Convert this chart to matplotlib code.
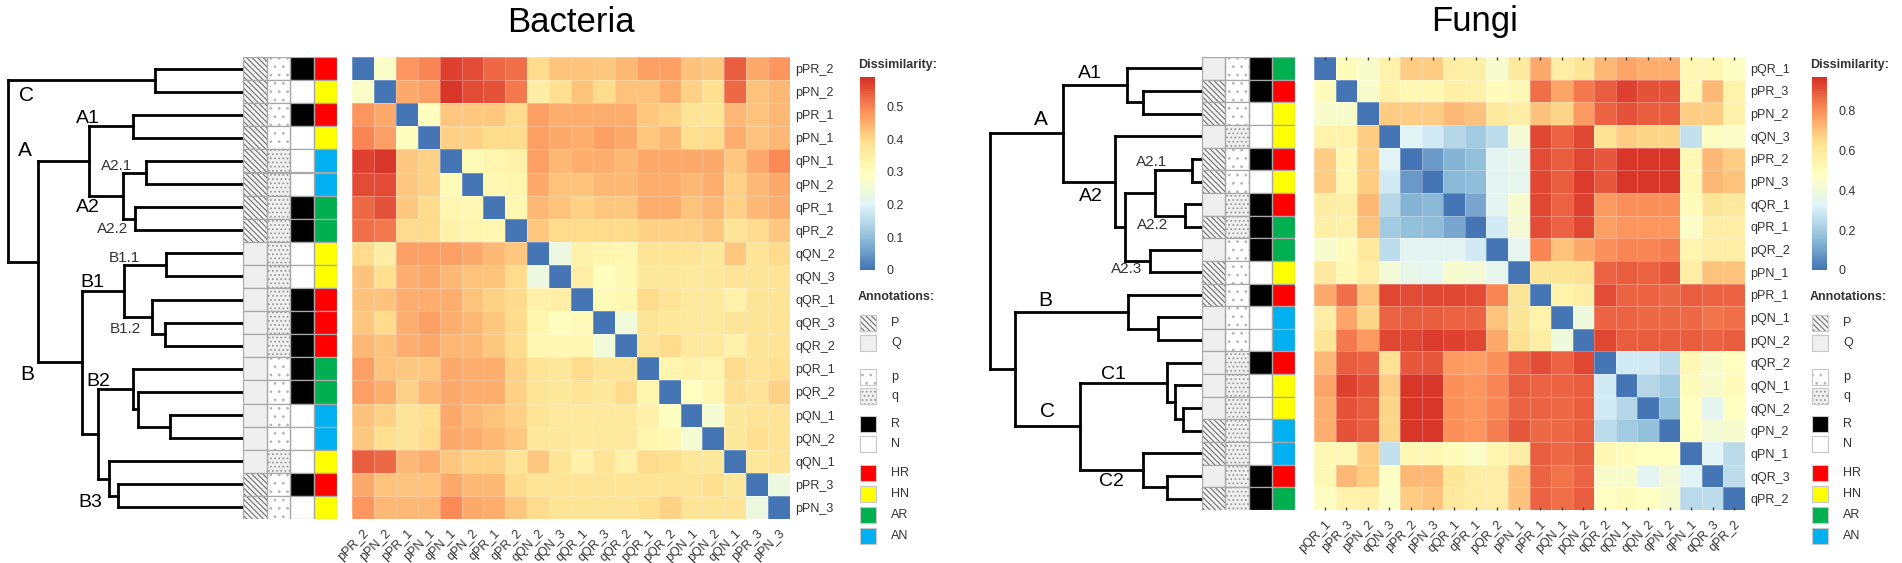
import numpy as np
import matplotlib
matplotlib.use("Agg")
from matplotlib import pyplot as plt
from matplotlib.colors import LinearSegmentedColormap
from matplotlib.patches import Rectangle

plt.rcParams['font.family'] = ['Liberation Sans', 'DejaVu Sans']
plt.rcParams['hatch.linewidth'] = 0.8

W, H = 1902, 563

# ---------------- data ----------------
bact_labels = ["pPR_2", "pPN_2", "pPR_1", "pPN_1", "qPN_1", "qPN_2", "qPR_1", "qPR_2",
               "qQN_2", "qQN_3", "qQR_1", "qQR_3", "qQR_2", "pQR_1", "pQR_2", "pQN_1",
               "pQN_2", "qQN_1", "pPR_3", "pPN_3"]

# lower triangle of the dissimilarity matrix (row i, columns 0..i-1)
bact_lower = [
    [],
    [0.28],
    [0.48, 0.46],
    [0.50, 0.47, 0.30],
    [0.57, 0.58, 0.42, 0.41],
    [0.56, 0.56, 0.42, 0.41, 0.31],
    [0.53, 0.55, 0.42, 0.40, 0.33, 0.32],
    [0.52, 0.51, 0.40, 0.40, 0.34, 0.33, 0.32],
    [0.40, 0.35, 0.47, 0.47, 0.47, 0.46, 0.44, 0.42],
    [0.43, 0.39, 0.45, 0.46, 0.44, 0.43, 0.43, 0.40, 0.24],
    [0.43, 0.43, 0.45, 0.45, 0.45, 0.43, 0.41, 0.40, 0.34, 0.35],
    [0.42, 0.40, 0.45, 0.47, 0.45, 0.44, 0.42, 0.40, 0.33, 0.30, 0.31],
    [0.44, 0.43, 0.45, 0.46, 0.44, 0.44, 0.42, 0.40, 0.32, 0.32, 0.32, 0.25],
    [0.47, 0.43, 0.42, 0.42, 0.46, 0.45, 0.45, 0.41, 0.38, 0.37, 0.40, 0.38, 0.38],
    [0.47, 0.45, 0.41, 0.44, 0.46, 0.45, 0.45, 0.41, 0.38, 0.37, 0.38, 0.37, 0.40, 0.33],
    [0.43, 0.41, 0.38, 0.39, 0.46, 0.44, 0.43, 0.41, 0.38, 0.36, 0.36, 0.36, 0.36, 0.34, 0.29],
    [0.42, 0.39, 0.38, 0.40, 0.46, 0.45, 0.44, 0.42, 0.37, 0.37, 0.36, 0.36, 0.36, 0.33, 0.32, 0.26],
    [0.54, 0.53, 0.44, 0.45, 0.42, 0.41, 0.41, 0.38, 0.42, 0.38, 0.34, 0.38, 0.34, 0.40, 0.39, 0.37, 0.37],
    [0.46, 0.43, 0.43, 0.43, 0.46, 0.44, 0.44, 0.40, 0.38, 0.38, 0.38, 0.38, 0.38, 0.38, 0.38, 0.38, 0.39, 0.37],
    [0.48, 0.44, 0.44, 0.44, 0.49, 0.46, 0.45, 0.42, 0.40, 0.38, 0.38, 0.38, 0.38, 0.39, 0.41, 0.38, 0.38, 0.38, 0.24],
]

# merges: (left node, right node, height); new node ids start at 20
bact_merges = [
    (0, 1, 0.374), (2, 3, 0.468), (4, 5, 0.413), (6, 7, 0.460), (22, 23, 0.510),
    (21, 24, 0.655), (8, 9, 0.328), (11, 12, 0.332), (10, 27, 0.387), (26, 28, 0.506),
    (15, 16, 0.311), (14, 30, 0.447), (13, 31, 0.468), (18, 19, 0.530), (17, 33, 0.570),
    (32, 34, 0.617), (29, 35, 0.685), (25, 36, 0.872), (20, 37, 1.000),
]
bact_clusters = ["C", "A", "A1", "A2.1", "A2", "A2.2", "B1.1", "B1", "B1.2", "B", "B2", "B3"]
bact_cl_pos = [(0.923, 1.65), (0.928, 4.04), (0.66, 2.65), (0.536, 4.74), (0.66, 6.52),
               (0.553, 7.43), (0.506, 8.7), (0.643, 9.78), (0.502, 11.78), (0.919, 13.74),
               (0.617, 14.04), (0.65, 19.3)]

fungi_labels = ["pQR_1", "pPR_3", "pPN_2", "qQN_3", "pPR_2", "pPN_3", "qQR_1", "qPR_1",
                "pQR_2", "pPN_1", "pPR_1", "pQN_1", "pQN_2", "qQR_2", "qQN_1", "qQN_2",
                "qPN_2", "qPN_1", "qQR_3", "qPR_2"]

fungi_lower = [
    [],
    [0.50],
    [0.45, 0.45],
    [0.55, 0.55, 0.68],
    [0.68, 0.53, 0.68, 0.33],
    [0.68, 0.53, 0.68, 0.30, 0.08],
    [0.58, 0.57, 0.72, 0.24, 0.14, 0.15],
    [0.57, 0.56, 0.70, 0.20, 0.17, 0.16, 0.11],
    [0.44, 0.50, 0.60, 0.26, 0.34, 0.34, 0.34, 0.30],
    [0.60, 0.52, 0.58, 0.42, 0.36, 0.35, 0.44, 0.42, 0.35],
    [0.75, 0.86, 0.70, 0.93, 0.92, 0.93, 0.93, 0.92, 0.82, 0.62],
    [0.58, 0.76, 0.66, 0.88, 0.89, 0.89, 0.88, 0.88, 0.70, 0.62, 0.55],
    [0.62, 0.84, 0.78, 0.93, 0.93, 0.95, 0.94, 0.93, 0.75, 0.64, 0.58, 0.40],
    [0.72, 0.89, 0.88, 0.64, 0.90, 0.90, 0.78, 0.77, 0.80, 0.88, 0.92, 0.88, 0.93],
    [0.76, 0.94, 0.91, 0.68, 0.96, 0.96, 0.80, 0.79, 0.82, 0.89, 0.88, 0.88, 0.89, 0.30],
    [0.74, 0.91, 0.89, 0.66, 0.96, 0.96, 0.80, 0.79, 0.82, 0.88, 0.88, 0.87, 0.89, 0.30, 0.24],
    [0.74, 0.91, 0.89, 0.66, 0.96, 0.96, 0.80, 0.79, 0.83, 0.90, 0.87, 0.87, 0.89, 0.26, 0.20, 0.17],
    [0.52, 0.52, 0.68, 0.27, 0.52, 0.52, 0.50, 0.46, 0.54, 0.58, 0.89, 0.87, 0.89, 0.52, 0.50, 0.48, 0.48],
    [0.52, 0.72, 0.68, 0.47, 0.72, 0.72, 0.62, 0.58, 0.58, 0.70, 0.88, 0.85, 0.88, 0.45, 0.45, 0.34, 0.42, 0.33],
    [0.47, 0.55, 0.56, 0.46, 0.68, 0.70, 0.60, 0.58, 0.58, 0.70, 0.88, 0.86, 0.89, 0.48, 0.50, 0.48, 0.44, 0.25, 0.26],
]

fungi_merges = [
    (1, 2, 0.278), (0, 20, 0.354), (4, 5, 0.047), (6, 7, 0.080), (22, 23, 0.222),
    (8, 9, 0.245), (24, 25, 0.363), (3, 26, 0.410), (21, 27, 0.656), (11, 12, 0.208),
    (10, 29, 0.349), (15, 16, 0.090), (14, 31, 0.127), (13, 32, 0.165), (18, 19, 0.165),
    (17, 34, 0.278), (33, 35, 0.575), (30, 36, 0.882), (28, 37, 1.000),
]
fungi_clusters = ["A1", "A", "A2.1", "A2", "A2.2", "A2.3", "B", "C1", "C", "C2"]
fungi_cl_pos = [(0.528, 0.71), (0.759, 2.74), (0.236, 4.64), (0.524, 6.18), (0.231, 7.42),
                (0.354, 9.36), (0.741, 10.73), (0.42, 14.0), (0.731, 15.63), (0.425, 18.76)]

bact_ticks = [0, 0.1, 0.2, 0.3, 0.4, 0.5]
fungi_ticks = [0, 0.2, 0.4, 0.6, 0.8]
bact_vmax = 0.59
fungi_vmax = 0.97

cmap = LinearSegmentedColormap.from_list(
    "rdylbu_r", ["#4575B4", "#91BFDB", "#E0F3F8", "#FFFFBF", "#FEE090", "#FC8D59", "#D73027"], N=100)
group_colors = {"HR": "#FF0000", "HN": "#FFFF00", "AR": "#00B050", "AN": "#00B0F0"}
GRID = "#a8a8a8"
TXT = "#333333"


def full_matrix(lower):
    n = len(lower)
    m = np.zeros((n, n))
    for i, row in enumerate(lower):
        for j, v in enumerate(row):
            m[i, j] = v
            m[j, i] = v
    return m


def box(x0, y0, x1, y1):
    # axes from pixel box (y measured from the top)
    return fig.add_axes([x0 / W, 1 - y1 / H, (x1 - x0) / W, (y1 - y0) / H])


def draw_dendro(ax, merges, n, clusters, cl_pos):
    pos = {i: i + 0.5 for i in range(n)}
    hgt = {i: 0.0 for i in range(n)}
    kw = dict(color="black", lw=2.0, solid_capstyle="projecting", clip_on=False)
    for k, (a, b, h) in enumerate(merges):
        for c in (a, b):
            ax.plot([hgt[c], h], [pos[c], pos[c]], **kw)
        ax.plot([h, h], [pos[a], pos[b]], **kw)
        pos[n + k] = (pos[a] + pos[b]) / 2
        hgt[n + k] = h
    for name, (x, y) in zip(clusters, cl_pos):
        small = "." in name
        ax.text(x, y, name, ha="center", va="center",
                fontsize=11 if small else (15 if len(name) == 1 else 14),
                color=TXT if small else "black")
    ax.set_xlim(1, 0)
    ax.set_ylim(n, 0)
    ax.axis("off")


def draw_annot(ax, labels):
    n = len(labels)
    for i, lab in enumerate(labels):
        first, second, third = lab[0], lab[1], lab[2]
        # column 1: P / Q
        if second == "P":
            ax.add_patch(Rectangle((0, i), 1, 1, facecolor="#f4f4f4", edgecolor="#6e6e6e",
                                   hatch="\\\\\\\\\\\\", lw=0))
        else:
            ax.add_patch(Rectangle((0, i), 1, 1, facecolor="#efefef", lw=0))
        # column 2: p / q
        if first == "p":
            ax.add_patch(Rectangle((1, i), 1, 1, facecolor="white", edgecolor="#b8b8b8",
                                   hatch="..", lw=0))
        else:
            ax.add_patch(Rectangle((1, i), 1, 1, facecolor="#f0f0f0", edgecolor="#9a9a9a",
                                   hatch="....", lw=0))
        # column 3: R / N
        ax.add_patch(Rectangle((2, i), 1, 1, facecolor="black" if third == "R" else "white", lw=0))
        # column 4: home / away
        home = (first == "p") == (second == "P")
        key = ("H" if home else "A") + third
        ax.add_patch(Rectangle((3, i), 1, 1, facecolor=group_colors[key], lw=0))
        for c in range(4):
            ax.add_patch(Rectangle((c, i), 1, 1, fill=False, edgecolor=GRID, lw=0.9))
    ax.set_xlim(0, 4)
    ax.set_ylim(n, 0)
    ax.axis("off")


def draw_heat(ax, m, labels, vmax, top_ticks=False):
    n = len(labels)
    mesh = ax.pcolormesh(np.arange(n + 1), np.arange(n + 1), m, cmap=cmap, vmin=0, vmax=vmax,
                         edgecolors=(1, 1, 1, 0.25), linewidth=0.4)
    ax.set_xlim(0, n)
    ax.set_ylim(n, 0)
    ax.set_yticks(np.arange(n) + 0.5, labels)
    ax.yaxis.tick_right()
    ax.set_xticks(np.arange(n) + 0.5, labels, rotation=45, ha="right", rotation_mode="anchor")
    ax.tick_params(length=0, labelsize=9, labelcolor=TXT)
    ax.tick_params(axis="y", pad=4)
    ax.tick_params(axis="x", pad=6)
    if top_ticks:
        ax.tick_params(axis="x", top=True, direction="in", length=2, width=1, color="#444444")
    for s in ax.spines.values():
        s.set_visible(False)
    return mesh


def draw_legend(x0, mesh, ticks):
    fig.text(x0 / W, 1 - 65 / H, "Dissimilarity:", fontsize=9, fontweight="bold", color=TXT,
             ha="left", va="center")
    cax = box(x0 + 2, 77, x0 + 17, 270)
    cb = fig.colorbar(mesh, cax=cax, ticks=ticks)
    cb.outline.set_visible(False)
    cax.tick_params(length=0, labelsize=9, labelcolor=TXT, pad=8)
    cax.set_yticklabels([f"{t:g}" for t in ticks])
    fig.text(x0 / W, 1 - 297 / H, "Annotations:", fontsize=9, fontweight="bold", color=TXT,
             ha="left", va="center")
    lax = box(x0, 310, x0 + 60, 550)
    lax.set_xlim(x0, x0 + 60)
    lax.set_ylim(550, 310)
    lax.axis("off")
    items = [("P", dict(facecolor="#f4f4f4", edgecolor="#6e6e6e", hatch="\\\\\\\\\\\\"), 323),
             ("Q", dict(facecolor="#efefef"), 343),
             ("p", dict(facecolor="white", edgecolor="#b8b8b8", hatch=".."), 377),
             ("q", dict(facecolor="#f0f0f0", edgecolor="#9a9a9a", hatch="...."), 396),
             ("R", dict(facecolor="black"), 424),
             ("N", dict(facecolor="white"), 444),
             ("HR", dict(facecolor=group_colors["HR"]), 473),
             ("HN", dict(facecolor=group_colors["HN"]), 494),
             ("AR", dict(facecolor=group_colors["AR"]), 515),
             ("AN", dict(facecolor=group_colors["AN"]), 536)]
    for name, style, yc in items:
        lax.add_patch(Rectangle((x0 + 2, yc - 8), 16, 16, lw=0, clip_on=False, **style))
        lax.add_patch(Rectangle((x0 + 2, yc - 8), 16, 16, fill=False, edgecolor="#c8c8c8",
                                lw=0.8, clip_on=False))
        lax.text(x0 + 33, yc, name, fontsize=9, color=TXT, ha="left", va="center")


fig = plt.figure(figsize=(W / 100, H / 100), dpi=100)

# ---------------- Bacteria ----------------
bact = full_matrix(bact_lower)
draw_dendro(box(8, 57, 243, 519), bact_merges, 20, bact_clusters, bact_cl_pos)
draw_annot(box(243, 57, 337, 519), bact_labels)
mesh_b = draw_heat(box(352, 57, 790, 519), bact, bact_labels, bact_vmax)
draw_legend(858, mesh_b, bact_ticks)
fig.text(571 / W, 1 - 22 / H, "Bacteria", fontsize=25, ha="center", va="center")

# ---------------- Fungi ----------------
fungi = full_matrix(fungi_lower)
draw_dendro(box(990, 57, 1202, 510), fungi_merges, 20, fungi_clusters, fungi_cl_pos)
draw_annot(box(1202, 57, 1295, 510), fungi_labels)
mesh_f = draw_heat(box(1314, 57, 1745, 510), fungi, fungi_labels, fungi_vmax, top_ticks=True)
draw_legend(1810, mesh_f, fungi_ticks)
fig.text(1475 / W, 1 - 22 / H, "Fungi", fontsize=25, ha="center", va="center")

fig.savefig("out.png", dpi=100)
